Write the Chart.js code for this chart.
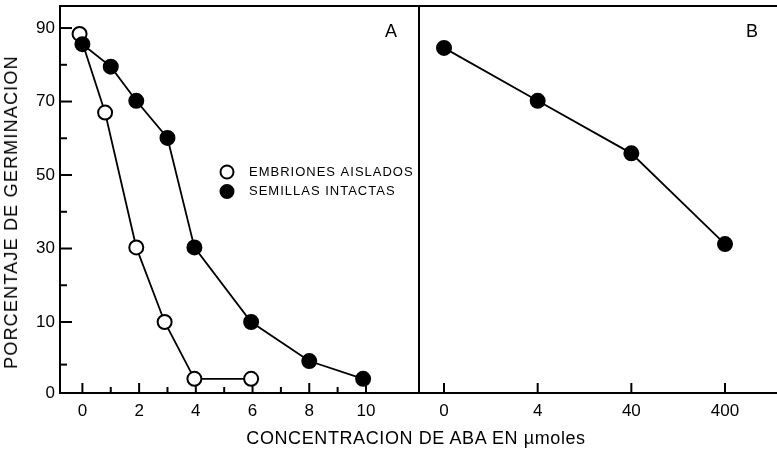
<!DOCTYPE html>
<html><head><meta charset="utf-8">
<script src="https://cdn.jsdelivr.net/npm/chart.js@4.4.1/dist/chart.umd.min.js"></script>
<style>
html,body{margin:0;padding:0;background:#fff;}
#wrap{position:relative;width:777px;height:453px;overflow:hidden;font-family:'Liberation Sans',Arial,Helvetica,sans-serif;color:#000;}
canvas{position:absolute;top:0;}
#cA{left:0;}
#cB{left:418px;}
.lbl{position:absolute;white-space:nowrap;line-height:1;transform:translate(-50%,-50%);}
#ytitle{left:10.5px;top:211.5px;font-size:18px;letter-spacing:1.2px;transform:translate(-50%,-50%) rotate(-90deg);}
#xtitle{left:416px;top:438px;font-size:18px;letter-spacing:0.6px;}
#pA{left:391px;top:31px;font-size:18px;}
#pB{left:752px;top:31px;font-size:18px;}
</style></head><body>
<div id="wrap">
<canvas id="cA" width="420" height="453"></canvas>
<canvas id="cB" width="359" height="453"></canvas>
<div class="lbl" id="ytitle">PORCENTAJE DE GERMINACION</div>
<div class="lbl" id="xtitle">CONCENTRACION DE ABA EN µmoles</div>
<div class="lbl" id="pA">A</div>
<div class="lbl" id="pB">B</div>
</div>
<script>
// ---- data ----
const embrionesLabel = 'EMBRIONES AISLADOS';
const semillasLabel = 'SEMILLAS INTACTAS';
const aEmbrionesX = [-0.1, 0.8, 1.9, 2.9, 3.95, 5.95];
const aEmbrionesY = [88.4, 67, 30.3, 10, 2, 2];
const aSemillasX = [0, 1, 1.9, 3, 3.95, 5.95, 8, 9.9];
const aSemillasY = [85.6, 79.5, 70.2, 60.1, 30.3, 10, 4.5, 2];
const bCategories = ['0', '4', '40', '400'];
const bSemillasY = [84.6, 70.2, 55.9, 31.2];
const yTickValues = [0, 4, 10, 20, 30, 40, 50, 60, 70, 80, 90];
const yTickLabels = ['0', '', '10', '', '30', '', '50', '', '70', '', '90'];
const aXTickValues = [0, 1, 2, 3, 4, 5, 6, 7, 8, 9, 10];
const aXTickLabels = ['0', '', '2', '', '4', '', '6', '', '8', '', '10'];

// y axis of the original is stretched between 0 and 10
const Y_MIN = 0, Y_MAX = 96, Y_BREAK = 10, Y_BREAK_DEC = 71 / 387;

class PiecewiseScale extends Chart.LinearScale {
  static id = 'piecewise';
  static defaults = Chart.LinearScale.defaults;
  _toDec(v) {
    if (v <= Y_BREAK) return (v - this.min) / (Y_BREAK - this.min) * Y_BREAK_DEC;
    return Y_BREAK_DEC + (v - Y_BREAK) / (this.max - Y_BREAK) * (1 - Y_BREAK_DEC);
  }
  getPixelForValue(value) {
    if (value === null || value === undefined || isNaN(value)) return NaN;
    return this.getPixelForDecimal(this._toDec(value));
  }
  getValueForPixel(pixel) {
    const d = this.getDecimalForPixel(pixel);
    if (d <= Y_BREAK_DEC) return this.min + d / Y_BREAK_DEC * (Y_BREAK - this.min);
    return Y_BREAK + (d - Y_BREAK_DEC) / (1 - Y_BREAK_DEC) * (this.max - Y_BREAK);
  }
}
Chart.register(PiecewiseScale);

Chart.defaults.font.family = "'Liberation Sans', Arial, Helvetica, sans-serif";
Chart.defaults.color = '#000';

const frameAndTicks = {
  id: 'frameAndTicks',
  beforeDatasetsDraw(chart, args, opts) {
    const ctx = chart.ctx, ca = chart.chartArea;
    ctx.save();
    ctx.strokeStyle = '#000';
    ctx.lineWidth = 2;
    const line = (x1, y1, x2, y2) => { ctx.beginPath(); ctx.moveTo(x1, y1); ctx.lineTo(x2, y2); ctx.stroke(); };
    const xs = chart.scales.x;
    xs.ticks.forEach((t, i) => {
      const px = xs.getPixelForTick(i);
      line(px, ca.bottom, px, ca.bottom - (t.label ? 10 : 6));
    });
    const ys = chart.scales.y;
    if (ys.options.display) {
      ys.ticks.forEach((t, i) => {
        if (t.value === ys.min) return;
        const py = ys.getPixelForTick(i);
        line(ca.left, py, ca.left + (t.label ? 12 : 7), py);
      });
    }
    const s = opts.sides || [];
    ctx.lineCap = 'square';
    if (s.includes('top')) line(ca.left, ca.top, ca.right, ca.top);
    if (s.includes('bottom')) line(ca.left, ca.bottom, ca.right, ca.bottom);
    if (s.includes('left')) line(ca.left, ca.top, ca.left, ca.bottom);
    if (s.includes('right')) line(ca.right, ca.top, ca.right, ca.bottom);
    ctx.restore();
  }
};

const customLegend = {
  id: 'customLegend',
  afterDraw(chart, args, opts) {
    if (!opts.show) return;
    const ctx = chart.ctx;
    ctx.save();
    ctx.font = "13px 'Liberation Sans', Arial, sans-serif";
    if ('letterSpacing' in ctx) ctx.letterSpacing = '1px';
    ctx.textBaseline = 'middle';
    ctx.fillStyle = '#000';
    const items = [chart.data.datasets[0], chart.data.datasets[1]];
    const rows = [{ c: 172, t: 172.5 }, { c: 191.5, t: 191 }];
    items.forEach((ds, i) => {
      const r = rows[i];
      ctx.beginPath();
      ctx.arc(227, r.c, 6.5, 0, Math.PI * 2);
      ctx.fillStyle = ds.pointBackgroundColor;
      ctx.fill();
      ctx.lineWidth = 2;
      ctx.strokeStyle = '#000';
      ctx.stroke();
      ctx.fillStyle = '#000';
      ctx.fillText(ds.label, 249, r.t);
    });
    ctx.restore();
  }
};

const tickFont = { size: 17 };
const noPad = s => { s.paddingTop = 0; s.paddingBottom = 0; s.paddingLeft = 0; s.paddingRight = 0; };

function yScale(show) {
  return {
    type: 'piecewise',
    display: show,
    min: Y_MIN, max: Y_MAX,
    afterBuildTicks: s => { s.ticks = yTickValues.map(v => ({ value: v })); },
    ticks: { callback: (v, i) => yTickLabels[i], autoSkip: false, padding: 5, font: tickFont, color: '#000' },
    grid: { display: false, drawTicks: false },
    border: { display: false },
    afterFit: s => { noPad(s); if (show) s.width = 60; }
  };
}

function xScale(min, max, values, labels) {
  return {
    type: 'linear', min: min, max: max,
    afterBuildTicks: s => { s.ticks = values.map(v => ({ value: v })); },
    ticks: { callback: (v, i) => labels[i], autoSkip: false, maxRotation: 0, padding: 8, font: tickFont, color: '#000' },
    grid: { display: false, drawTicks: false },
    border: { display: false },
    afterFit: s => { noPad(s); s.height = 60; }
  };
}

new Chart(document.getElementById('cA'), {
  type: 'line',
  data: {
    datasets: [
      {
        label: embrionesLabel,
        data: aEmbrionesX.map((x, i) => ({ x: x, y: aEmbrionesY[i] })),
        borderColor: '#000', borderWidth: 1.8,
        pointRadius: 7, pointBorderWidth: 2,
        pointBackgroundColor: '#fff', pointBorderColor: '#000',
        order: 1, clip: false
      },
      {
        label: semillasLabel,
        data: aSemillasX.map((x, i) => ({ x: x, y: aSemillasY[i] })),
        borderColor: '#000', borderWidth: 1.8,
        pointRadius: 7, pointBorderWidth: 2,
        pointBackgroundColor: '#000', pointBorderColor: '#000',
        order: 0, clip: false
      }
    ]
  },
  options: {
    responsive: false, animation: false, events: [], devicePixelRatio: 1,
    layout: { autoPadding: false, padding: { top: 6, right: 1, left: 0, bottom: 0 } },
    plugins: {
      legend: { display: false }, tooltip: { enabled: false },
      frameAndTicks: { sides: ['top', 'bottom', 'left', 'right'] },
      customLegend: { show: true }
    },
    scales: {
      x: xScale(-0.79, 11.87, aXTickValues, aXTickLabels),
      y: yScale(true)
    }
  },
  plugins: [frameAndTicks, customLegend]
});

new Chart(document.getElementById('cB'), {
  type: 'line',
  data: {
    datasets: [
      {
        label: semillasLabel,
        data: bSemillasY.map((y, i) => ({ x: i, y: y })),
        borderColor: '#000', borderWidth: 1.8,
        pointRadius: 7, pointBorderWidth: 2,
        pointBackgroundColor: '#000', pointBorderColor: '#000',
        clip: false
      }
    ]
  },
  options: {
    responsive: false, animation: false, events: [], devicePixelRatio: 1,
    layout: { autoPadding: false, padding: { top: 6, right: 0, left: 1, bottom: 0 } },
    plugins: {
      legend: { display: false }, tooltip: { enabled: false },
      frameAndTicks: { sides: ['top', 'bottom', 'left'] },
      customLegend: { show: false }
    },
    scales: {
      x: xScale(-0.267, 3.555, bCategories.map((c, i) => i), bCategories),
      y: yScale(false)
    }
  },
  plugins: [frameAndTicks, customLegend]
});
</script>
</body></html>
